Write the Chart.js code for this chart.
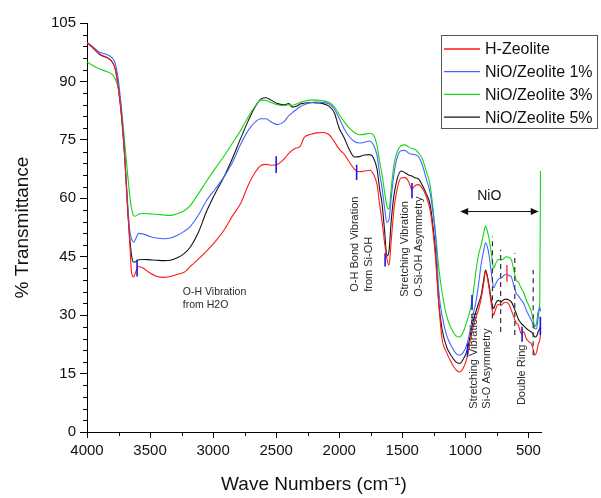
<!DOCTYPE html>
<html>
<head>
<meta charset="utf-8">
<script src="https://cdn.jsdelivr.net/npm/chart.js@4.4.1/dist/chart.umd.min.js"></script>
<style>
  html, body { margin: 0; padding: 0; background: #fff; }
  #wrap { width: 601px; height: 498px; }
</style>
</head>
<body>
<div id="wrap"><canvas id="ftir-chart"></canvas></div>
<script>
// wave numbers (cm-1), shared by all four spectra
const waveNumbers = [
  4000, 3950, 3900, 3850, 3800, 3775, 3750, 3725, 3700, 3680, 3662, 3645, 3630, 3615, 3590, 3550, 3500, 3450, 3390, 3340,
  3280, 3230, 3180, 3120, 3050, 2980, 2910, 2850, 2780, 2720, 2670, 2620, 2580, 2540, 2490, 2440, 2400, 2370, 2340, 2310,
  2280, 2230, 2180, 2130, 2080, 2040, 2000, 1960, 1920, 1880, 1840, 1800, 1760, 1730, 1700, 1680, 1660, 1640, 1622, 1605,
  1588, 1565, 1540, 1510, 1480, 1450, 1425, 1400, 1370, 1340, 1310, 1280, 1255, 1235, 1210, 1185, 1150, 1110, 1075, 1045,
  1015, 985, 960, 940, 915, 895, 875, 855, 840, 825, 810, 790, 775, 760, 740, 715, 695, 675, 655, 635,
  615, 597, 580, 557, 537, 517, 497, 477, 460, 450, 435, 422, 410, 404
];

const hZeolite = [
  100, 98.6, 97, 96.3, 95, 93, 88, 81, 70, 58.5, 49, 40.5, 39.8, 41, 42.5, 42, 40.8, 40, 39.7, 39.9,
  40.5, 41, 42.5, 44.3, 46.5, 49, 52, 55.3, 58.8, 63.5, 66.5, 68.4, 68.7, 68.5, 68.7, 70, 71.5, 72.4, 72.9, 73.3,
  75.5, 76.4, 76.8, 76.9, 76.3, 74.6, 72.6, 71.3, 69.3, 67.5, 66.8, 67, 67.2, 66.3, 63.5, 58.5, 54, 48.5, 44.5, 42.8,
  49, 57.5, 62.5, 65.2, 65.3, 64.3, 62.3, 63.2, 63.5, 62.5, 60.5, 57, 51, 44, 32.5, 24, 20.5, 17.8, 16, 15.4,
  16.5, 19.3, 23.5, 26.8, 29.5, 31.5, 34.2, 38, 41.2, 39.5, 36.5, 32, 30, 31.5, 32.8, 32.5, 33.2, 33.3, 32.8, 31.2,
  29.5, 28, 27.5, 25.3, 25.7, 24, 23.2, 22.7, 21, 19.7, 20.5, 22.5, 23.6, 25
];

const nio1 = [
  100, 98.8, 97.5, 97, 96, 94.5, 90, 82, 71, 60, 52, 49.5, 48.7, 49.5, 51, 50.8, 50.2, 49.8, 49.6, 49.8,
  50.6, 51.5, 52.8, 55.5, 59.5, 62.5, 65.7, 69, 74, 77.5, 79.5, 80.4, 80.4, 79.6, 78.9, 79.6, 81.2, 82, 82.8, 83.5,
  84, 84.5, 84.7, 84.6, 84.2, 83, 80.5, 77.8, 75.8, 74.6, 74.2, 74.4, 74.7, 73.8, 71, 66.5, 62.5, 57.5, 53.8, 54.5,
  60, 66.5, 70.5, 72.2, 72.3, 71.6, 71.3, 71.2, 70.6, 68.5, 65, 61.5, 56, 50, 36, 30, 25, 22, 20.2, 19.7,
  20.5, 22.7, 26.5, 30, 33.5, 38, 43, 46.5, 48.6, 47.5, 45, 40, 37, 38, 39.2, 39.5, 40.2, 40.5, 40.2, 39.8,
  37.5, 35.6, 35, 33.9, 33, 31.3, 30, 28.7, 27.5, 26.5, 26.5, 29.5, 32.2, 31
];

const nio3 = [
  95, 94, 93.2, 92.6, 91.8, 90.5, 88, 82.5, 74, 67, 61, 57, 55.5, 55.4, 55.9, 56.1, 56, 55.9, 55.7, 55.6,
  56.1, 56.8, 58.2, 61, 64.5, 67.8, 71, 74, 77.5, 81, 83.5, 85.2, 85.1, 84.6, 84, 83.8, 84, 83.9, 84.2, 84.6,
  84.9, 85.2, 85.2, 85, 84.6, 83.5, 81.5, 79.6, 78, 76.9, 76.3, 76.4, 76.7, 76.3, 73.5, 69.5, 66, 61.5, 58, 57.2,
  62.5, 68.8, 72, 73.5, 73.7, 73.2, 72.8, 72.6, 71.6, 70, 67, 63.5, 57, 50.5, 42, 36, 30, 26.5, 24.7, 24.4,
  25.8, 28.7, 31.5, 35.2, 41.5, 45.5, 48, 51, 52.9, 51.5, 49.3, 45, 42, 43.2, 44.3, 44.2, 44.5, 45, 44.8, 44.2,
  41.5, 39, 38.5, 36.9, 35.8, 33.9, 32.5, 30.9, 28.5, 27, 28, 31, 33, 67
];

const nio5 = [
  100, 98.5, 96.9, 96.2, 95, 93.1, 87.9, 80.5, 70, 58.5, 50.2, 45, 43.6, 43.7, 44.2, 44.3, 44.2, 44.1, 44, 44.1,
  44.8, 45.8, 47.5, 51, 56.8, 61.5, 65.7, 70, 75.5, 80, 83.3, 85.5, 85.8, 85.2, 84.3, 84, 84.3, 83.4, 83.6, 84.2,
  84.4, 84.6, 84.5, 84.3, 83.6, 82, 78, 75.5, 72.5, 70.6, 70.7, 71.1, 71.2, 70.5, 67.5, 62.5, 58.5, 51.5, 45.2, 46.5,
  54, 61, 65, 67, 66.6, 66, 65.7, 65.3, 64.9, 63.3, 61.2, 58.5, 52.5, 46, 33, 26.5, 22, 19.5, 18, 17.6,
  18.8, 21, 25, 28.2, 31, 33, 35, 39, 41.6, 40, 37.3, 33.2, 31.7, 33, 33.8, 33.4, 34, 34.1, 33.9, 33.4,
  32, 30.5, 29, 27.9, 27.3, 26.6, 26.1, 25.7, 25, 24.4, 24.6, 25.8, 26.6, 27
];

const seriesNames = ["H-Zeolite", "NiO/Zeolite 1%", "NiO/Zeolite 3%", "NiO/Zeolite 5%"];
const seriesColors = ["rgb(255,25,25)", "rgb(70,100,255)", "rgb(20,215,20)", "#161616"];
const seriesValues = [hZeolite, nio1, nio3, nio5];

const xTicks = [4000, 3500, 3000, 2500, 2000, 1500, 1000, 500];
const yTicks = [0, 15, 30, 45, 60, 75, 90, 105];

// small marker strokes on the spectra: [wave number, from %, to %, colour]
const markers = [
  [3603, 39.9, 44.2, "rgb(25,25,230)"],
  [2500, 66.5, 70.8, "rgb(25,25,230)"],
  [1862, 64.7, 68.6, "rgb(25,25,230)"],
  [1636, 42.5, 45.9, "rgb(25,25,230)"],
  [1423, 60.0, 63.9, "rgb(25,25,230)"],
  [983, 19.3, 22.7, "rgb(25,25,230)"],
  [947, 31.3, 35.2, "rgb(25,25,230)"],
  [670, 38.6, 42.9, "rgb(255,70,70)"],
  [550, 23.2, 27.0, "rgb(25,25,230)"],
  [405, 24.9, 29.6, "rgb(25,25,230)"]
];

// dashed guide lines in the NiO region: [wave number, from %, to %]
const dashLines = [
  [785, 29.2, 50.2],
  [720, 25.7, 46.8],
  [608, 24.9, 45.9],
  [462, 19.7, 41.6]
];

// text labels rotated -90 deg: [wave number, bottom %, lines]
const rotatedLabels = [
  [1874, 36.0, ["O-H Bond Vibration", "from Si-OH"]],
  [1477, 34.7, ["Stretching Vibration", "O-Si-OH Asymmetry"]],
  [935, 6.0, ["Stretching Vibration", "Si-O Asymmetry"]],
  [551, 6.9, ["Double Ring"]]
];

const fontFamily = "'Liberation Sans', Arial, sans-serif";

const annotations = {
  id: "annotations",
  afterDatasetsDraw(chart) {
    const c = chart.ctx;
    const xs = chart.scales.x;
    const ys = chart.scales.y;
    const X = (v) => xs.getPixelForValue(v);
    const Y = (v) => ys.getPixelForValue(v);
    c.save();

    // minor ticks
    c.strokeStyle = "#000";
    c.lineWidth = 1;
    c.beginPath();
    for (let w = 3750; w > 400; w -= 500) {
      const px = Math.round(X(w)) + 0.5;
      c.moveTo(px, ys.bottom);
      c.lineTo(px, ys.bottom + 4);
    }
    for (let v = 3; v < 105; v += 3) {
      if (v % 15 === 0) continue;
      const py = Math.round(Y(v)) + 0.5;
      c.moveTo(xs.left - 4, py);
      c.lineTo(xs.left, py);
    }
    c.stroke();

    // dashed guides
    c.strokeStyle = "#333";
    c.lineWidth = 1.2;
    c.setLineDash([5, 4]);
    c.beginPath();
    dashLines.forEach(([w, a, b]) => {
      c.moveTo(X(w), Y(a));
      c.lineTo(X(w), Y(b));
    });
    c.stroke();
    c.setLineDash([]);

    // marker strokes
    c.lineWidth = 1.6;
    markers.forEach(([w, a, b, col]) => {
      c.strokeStyle = col;
      c.beginPath();
      c.moveTo(X(w), Y(a));
      c.lineTo(X(w), Y(b));
      c.stroke();
    });

    // NiO arrow
    const ay = Y(56.6);
    const ax1 = X(1041), ax2 = X(418);
    c.strokeStyle = "#111";
    c.fillStyle = "#111";
    c.lineWidth = 1;
    c.beginPath();
    c.moveTo(ax1 + 6, ay);
    c.lineTo(ax2 - 6, ay);
    c.stroke();
    c.beginPath();
    c.moveTo(ax1, ay); c.lineTo(ax1 + 8, ay - 3.5); c.lineTo(ax1 + 8, ay + 3.5); c.closePath();
    c.moveTo(ax2, ay); c.lineTo(ax2 - 8, ay - 3.5); c.lineTo(ax2 - 8, ay + 3.5); c.closePath();
    c.fill();
    c.font = "14px " + fontFamily;
    c.textAlign = "center";
    c.textBaseline = "middle";
    c.fillText("NiO", X(810), Y(60.5));

    // O-H vibration label
    c.fillStyle = "#2a2a2a";
    c.font = "10.5px " + fontFamily;
    c.textAlign = "left";
    c.fillText("O-H Vibration", X(3240), Y(36.0));
    c.fillText("from H2O", X(3240), Y(32.6));

    // rotated labels
    c.font = "11px " + fontFamily;
    rotatedLabels.forEach(([w, bottom, lines]) => {
      c.save();
      c.translate(X(w), Y(bottom));
      c.rotate(-Math.PI / 2);
      lines.forEach((t, i) => c.fillText(t, 0, i * 13.5));
      c.restore();
    });

    c.restore();
  },
  afterDraw(chart) {
    // legend box
    const c = chart.ctx;
    c.save();
    const bx = 441, by = 35, bw = 157, bh = 94;
    c.fillStyle = "#fff";
    c.fillRect(bx, by, bw, bh);
    c.strokeStyle = "#555";
    c.lineWidth = 1;
    c.strokeRect(bx + 0.5, by + 0.5, bw - 1, bh - 1);
    c.font = "16px " + fontFamily;
    c.textBaseline = "middle";
    c.textAlign = "left";
    seriesNames.forEach((name, i) => {
      const ry = by + 14 + i * 22.7;
      c.strokeStyle = seriesColors[i];
      c.lineWidth = 1.3;
      c.beginPath();
      c.moveTo(bx + 3, ry);
      c.lineTo(bx + 39, ry);
      c.stroke();
      c.fillStyle = "#111";
      c.fillText(name, bx + 44, ry + 1);
    });
    c.restore();
  }
};

const ctx = document.getElementById("ftir-chart");
new Chart(ctx, {
  type: "line",
  data: {
    datasets: seriesNames.map((name, i) => ({
      label: name,
      data: waveNumbers.map((w, j) => ({ x: w, y: seriesValues[i][j] })),
      borderColor: seriesColors[i],
      borderWidth: 1.1,
      pointRadius: 0,
      fill: false,
      cubicInterpolationMode: "monotone",
    })),
  },
  options: {
    responsive: true,
    maintainAspectRatio: false,
    animation: false,
    layout: { padding: { top: 23, right: 60, bottom: 0, left: 0 } },
    plugins: {
      legend: { display: false },
      tooltip: { enabled: false },
    },
    scales: {
      x: {
        type: "linear",
        reverse: true,
        min: 400,
        max: 4000,
        afterBuildTicks: (axis) => { axis.ticks = xTicks.map((v) => ({ value: v })); },
        afterFit: (axis) => { axis.height = 66; },
        grid: { drawOnChartArea: false, drawTicks: true, tickLength: 6, tickColor: "#000" },
        border: { color: "#000", width: 1 },
        ticks: {
          color: "#111",
          padding: 4,
          maxRotation: 0,
          callback: (v) => String(v),
          font: { family: fontFamily, size: 15 },
        },
        title: {
          display: true,
          text: "Wave Numbers (cm\u207B\u00B9)",
          color: "#111",
          padding: { top: 0, bottom: 2 },
          font: { family: fontFamily, size: 19 },
        },
      },
      y: {
        min: 0,
        max: 105,
        afterBuildTicks: (axis) => { axis.ticks = yTicks.map((v) => ({ value: v })); },
        afterFit: (axis) => { axis.width = 87; },
        grid: { drawOnChartArea: false, drawTicks: true, tickLength: 7, tickColor: "#000" },
        border: { color: "#000", width: 1 },
        ticks: {
          color: "#111",
          padding: 4,
          callback: (v) => String(v),
          font: { family: fontFamily, size: 15 },
        },
        title: {
          display: true,
          text: "% Transmittance",
          color: "#111",
          padding: { top: 11, bottom: 0 },
          font: { family: fontFamily, size: 19 },
        },
      },
    },
  },
  plugins: [annotations],
});
</script>
</body>
</html>
